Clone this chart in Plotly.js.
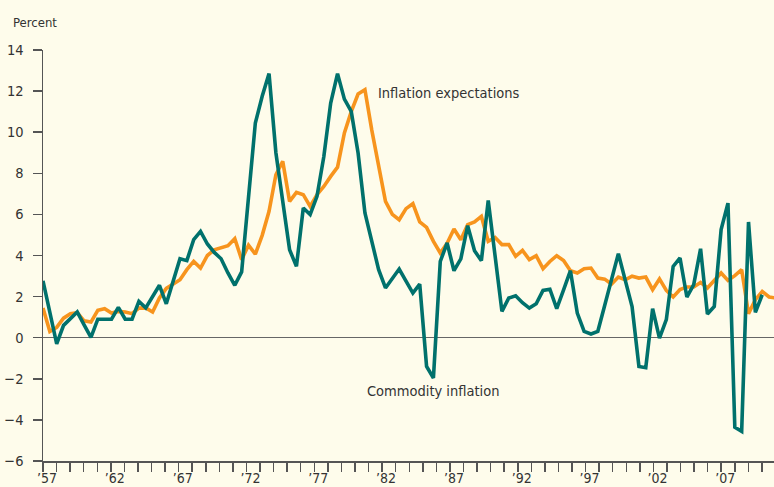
<!DOCTYPE html>
<html>
<head>
<meta charset="utf-8">
<script src="https://cdn.plot.ly/plotly-3.0.1.min.js"></script>
<style>
  html, body { margin: 0; padding: 0; background: #FEFCEB; }
  #chart { width: 774px; height: 487px; }
</style>
</head>
<body>
<div id="chart"></div>
<script>
// ---- Data (semiannual observations, first half of 1957 onward) ----
const startYear = 1957;
const periodsPerYear = 2;

const commodityInflation = [
  2.77, 1.25, -0.3, 0.6, 0.95, 1.25, 0.62, 0.02, 0.9, 0.9,
  0.9, 1.48, 0.9, 0.9, 1.77, 1.45, 2.0, 2.55, 1.65, 2.74,
  3.84, 3.75, 4.77, 5.17, 4.56, 4.15, 3.84, 3.15, 2.55, 3.2,
  7.0, 10.45, 11.75, 12.85, 9.0, 6.5, 4.28, 3.47, 6.31, 5.99,
  6.88, 8.82, 11.42, 12.85, 11.61, 11.01, 8.99, 6.07, 4.77, 3.31,
  2.42, 2.9, 3.34, 2.75, 2.17, 2.61, -1.4, -1.96, 3.71, 4.61,
  3.26, 3.84, 5.45, 4.23, 3.75, 6.68, 4.0, 1.28, 1.93, 2.04,
  1.7, 1.44, 1.65, 2.3, 2.36, 1.41, 2.33, 3.26, 1.2, 0.31,
  0.18, 0.31, 1.57, 2.83, 4.09, 2.8, 1.52, -1.4, -1.46, 1.41,
  -0.02, 0.88, 3.47, 3.88, 1.98, 2.58, 4.33, 1.15, 1.52, 5.26,
  6.55, -4.36, -4.56, 5.63, 1.23, 2.09
];

const inflationExpectations = [
  1.44, 0.3, 0.5, 0.95, 1.17, 1.22, 0.82, 0.76, 1.33, 1.41,
  1.2, 1.28, 1.25, 1.17, 1.44, 1.45, 1.25, 1.93, 2.4, 2.6,
  2.82, 3.31, 3.71, 3.39, 4.0, 4.28, 4.4, 4.48, 4.82, 3.8,
  4.5, 4.07, 4.98, 6.15, 7.93, 8.58, 6.63, 7.07, 6.96, 6.39,
  6.96, 7.36, 7.85, 8.3, 9.96, 11.0, 11.86, 12.07, 10.1, 8.34,
  6.63, 6.0, 5.74, 6.28, 6.52, 5.63, 5.37, 4.69, 4.12, 4.6,
  5.29, 4.77, 5.5, 5.63, 5.9, 4.69, 4.88, 4.53, 4.53, 3.96,
  4.25, 3.8, 3.99, 3.36, 3.71, 3.99, 3.76, 3.26, 3.15, 3.36,
  3.39, 2.9, 2.85, 2.61, 2.95, 2.82, 2.99, 2.9, 2.95, 2.34,
  2.86, 2.3, 1.98, 2.34, 2.47, 2.47, 2.69, 2.42, 2.8, 3.15,
  2.79, 3.02, 3.31, 1.17, 1.85, 2.25, 1.98, 1.93
];

const tickYears = [];
for (let y = 1957; y <= 2010; y++) tickYears.push(y);
const labeledYears = [1957, 1962, 1967, 1972, 1977, 1982, 1987, 1992, 1997, 2002, 2007];
const tickLabels = ["\u201957", "\u201962", "\u201967", "\u201972", "\u201977", "\u201982",
                    "\u201987", "\u201992", "\u201997", "\u201902", "\u201907"];
const yTicks = [-6, -4, -2, 0, 2, 4, 6, 8, 10, 12, 14];

// ---- Build traces ----
const periodOf = (arr) => arr.map((_, i) => startYear + i / periodsPerYear);
const tickText = tickYears.map(y => {
  const idx = labeledYears.indexOf(y);
  return idx >= 0 ? tickLabels[idx] : "";
});

const FONT = "'DejaVu Sans Condensed', 'Liberation Sans Narrow', sans-serif";
const TEXT = "#333333";
const AXIS = "#555555";

const traces = [
  {
    x: periodOf(inflationExpectations), y: inflationExpectations,
    type: "scatter", mode: "lines", xaxis: "x", yaxis: "y",
    line: { color: "#F7941D", width: 3.6 },
    hoverinfo: "skip", showlegend: false
  },
  {
    x: periodOf(commodityInflation), y: commodityInflation,
    type: "scatter", mode: "lines", xaxis: "x", yaxis: "y",
    line: { color: "#00716C", width: 3.6 },
    hoverinfo: "skip", showlegend: false
  },
  {
    x: [tickYears[0], tickYears[tickYears.length - 1]], y: [null, null],
    type: "scatter", mode: "lines", xaxis: "x2", yaxis: "y",
    hoverinfo: "skip", showlegend: false
  }
];

const layout = {
  width: 774, height: 487,
  margin: { l: 43, r: 0, t: 50, b: 26, pad: 0 },
  paper_bgcolor: "#FEFCEB",
  plot_bgcolor: "#FEFCEB",
  font: { family: FONT, color: TEXT, size: 14 },
  showlegend: false,
  xaxis: {
    range: [1957, 2010.36],
    visible: false, showgrid: false, zeroline: false, fixedrange: true
  },
  xaxis2: {
    overlaying: "x", anchor: "y", side: "bottom",
    range: [1957, 2010.89],
    tickmode: "array", tickvals: tickYears, ticktext: tickText,
    ticks: "outside", ticklen: 9, tickwidth: 1.5, tickcolor: AXIS,
    showline: true, linecolor: AXIS, linewidth: 1.5,
    showgrid: false, zeroline: false,
    tickfont: { family: FONT, size: 14, color: TEXT },
    ticklabelshift: 4, ticklabelstandoff: -5,
    fixedrange: true
  },
  yaxis: {
    range: [-6, 14],
    tickmode: "array", tickvals: yTicks,
    ticks: "outside", ticklen: 9, tickwidth: 1.5, tickcolor: AXIS,
    showline: true, linecolor: AXIS, linewidth: 1.5,
    showgrid: false,
    zeroline: true, zerolinecolor: "#666666", zerolinewidth: 1.5,
    tickfont: { family: FONT, size: 14.5, color: TEXT },
    ticklabelstandoff: 6,
    fixedrange: true
  },
  annotations: [
    { text: "Percent", xref: "paper", yref: "paper", x: -0.044, y: 1.068,
      xanchor: "left", yanchor: "middle", showarrow: false,
      font: { family: FONT, size: 13, color: TEXT } },
    { text: "Inflation expectations", xref: "paper", yref: "paper", x: 0.455, y: 0.895,
      xanchor: "left", yanchor: "middle", showarrow: false,
      font: { family: FONT, size: 14.5, color: TEXT } },
    { text: "Commodity inflation", xref: "paper", yref: "paper", x: 0.440, y: 0.170,
      xanchor: "left", yanchor: "middle", showarrow: false,
      font: { family: FONT, size: 14.5, color: TEXT } }
  ]
};

Plotly.newPlot("chart", traces, layout, { displayModeBar: false, staticPlot: true });
</script>
</body>
</html>
